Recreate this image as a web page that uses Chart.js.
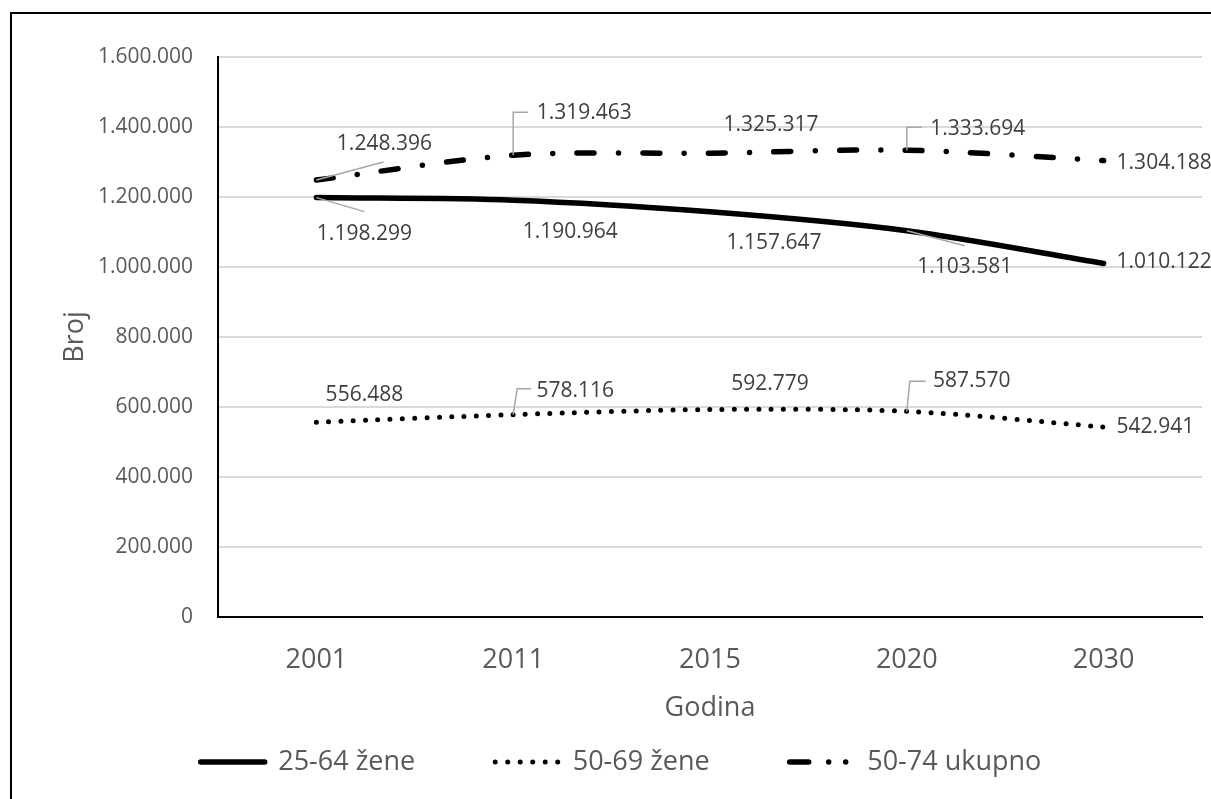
<!DOCTYPE html>
<html>
<head>
<meta charset="utf-8">
<script src="https://cdn.jsdelivr.net/npm/chart.js@4/dist/chart.umd.min.js"></script>
<style>
  html, body { margin: 0; padding: 0; background: #fff; overflow: hidden; }
  #frame { position: absolute; left: 10px; top: 12px; width: 1218px; height: 800px; border: 2px solid #000; }
  canvas { display: block; }
</style>
</head>
<body>
<div id="frame"><canvas id="chart" width="1218" height="800"></canvas></div>
<script>
const years = ['2001', '2011', '2015', '2020', '2030'];
const zene2564 = [1198299, 1190964, 1157647, 1103581, 1010122];
const zene5069 = [556488, 578116, 592779, 587570, 542941];
const ukupno5074 = [1248396, 1319463, 1325317, 1333694, 1304188];
const seriesNames = ['25-64 žene', '50-69 žene', '50-74 ukupno'];
const yMin = 0;
const yMax = 1600000;
const yStep = 200000;

// label offsets from each point (px) and leader lines, per series
const labelPos = [
    [[48, 36], [57, 32], [64, 31], [58, 36], [13, -1, 'left']],
    [[48, -27], [62, -24], [60, -26], [65, -30], [13, 0, 'left']],
    [[68, -36], [71, -42], [61, -28], [71, -21], [13, 2, 'left']]
];
const leaders = [
    [[[48, 14]], null, null, [[58, 15]], null],
    [null, [[4, -26], [18, -26]], null, [[3, -30], [19, -30]], null],
    [[[67, -18]], [[0, -43], [15, -43]], null, [[0, -23], [15, -23]], null]
];

const FONT = '"Open Sans", "Noto Sans", sans-serif';
const TEXT = '#595959';
const LEG_PAD = 80;

function fmt(v) {
    return String(v).replace(/\B(?=(\d{3})+(?!\d))/g, '.');
}

const dataLabels = {
    id: 'dataLabels',
    afterDatasetsDraw(chart) {
        const ctx = chart.ctx;
        ctx.save();
        chart.data.datasets.forEach((ds, i) => {
            const meta = chart.getDatasetMeta(i);
            meta.data.forEach((pt, j) => {
                const [dx, dy, align] = labelPos[i][j];
                const lead = leaders[i][j];
                if (lead) {
                    ctx.beginPath();
                    ctx.moveTo(pt.x, pt.y);
                    lead.forEach(([lx, ly]) => ctx.lineTo(pt.x + lx, pt.y + ly));
                    ctx.strokeStyle = '#a6a6a6';
                    ctx.lineWidth = 1.5;
                    ctx.setLineDash([]);
                    ctx.stroke();
                }
                ctx.fillStyle = '#404040';
                ctx.font = '21px ' + FONT;
                ctx.textAlign = align || 'center';
                ctx.textBaseline = 'middle';
                ctx.fillText(fmt(ds.data[j]), pt.x + dx, pt.y + dy);
            });
        });
        ctx.restore();
    }
};

const legendDash = [[], [0, 12.5], [19, 20, 0, 17, 0, 100]];

new Chart(document.getElementById('chart'), {
    type: 'line',
    data: {
        labels: years,
        datasets: [
            { label: seriesNames[0], data: zene2564, borderColor: '#000', borderWidth: 5.5, borderCapStyle: 'round' },
            { label: seriesNames[1], data: zene5069, borderColor: '#000', borderWidth: 5, borderCapStyle: 'round', borderDash: [0, 12.3] },
            { label: seriesNames[2], data: ukupno5074, borderColor: '#000', borderWidth: 5.5, borderCapStyle: 'round', borderDash: [17, 24.3, 0, 24.3] }
        ]
    },
    options: {
        responsive: false,
        animation: false,
        events: [],
        layout: { padding: { left: 28, right: 28, top: 43, bottom: 28.5 } },
        elements: {
            point: { radius: 0 },
            line: { tension: 0.3, fill: false }
        },
        scales: {
            x: {
                offset: true,
                grid: { display: false, drawTicks: false },
                border: { display: true, color: '#000', width: 2 },
                ticks: { color: TEXT, font: { family: FONT, size: 27 }, padding: 27 },
                title: { display: true, text: 'Godina', color: TEXT, font: { family: FONT, size: 27 }, padding: { top: 0, bottom: -55.7 } },
                afterFit(scale) { scale.height = 51.5; }
            },
            y: {
                min: yMin,
                max: yMax,
                ticks: { stepSize: yStep, color: TEXT, font: { family: FONT, size: 21 }, padding: 25, callback: v => fmt(v) },
                grid: { color: '#d9d9d9', lineWidth: 2, drawTicks: false },
                border: { display: true, color: '#000', width: 2 },
                title: { display: true, text: 'Broj', color: TEXT, font: { family: FONT, size: 27 }, padding: { top: 18.8, bottom: 0 } },
                afterFit(scale) { scale.width = 178; }
            }
        },
        plugins: {
            tooltip: { enabled: false },
            legend: {
                position: 'bottom',
                labels: {
                    color: TEXT,
                    font: { family: FONT, size: 27 },
                    usePointStyle: true,
                    pointStyleWidth: 64,
                    padding: LEG_PAD,
                    generateLabels(chart) {
                        return chart.data.datasets.map((ds, i) => ({
                            text: ds.label,
                            fillStyle: '#000',
                            strokeStyle: '#000',
                            fontColor: TEXT,
                            lineWidth: ds.borderWidth,
                            lineDash: legendDash[i],
                            lineCap: 'round',
                            pointStyle: 'line',
                            hidden: false,
                            datasetIndex: i
                        }));
                    }
                }
            }
        }
    },
    plugins: [dataLabels]
});
</script>
</body>
</html>
